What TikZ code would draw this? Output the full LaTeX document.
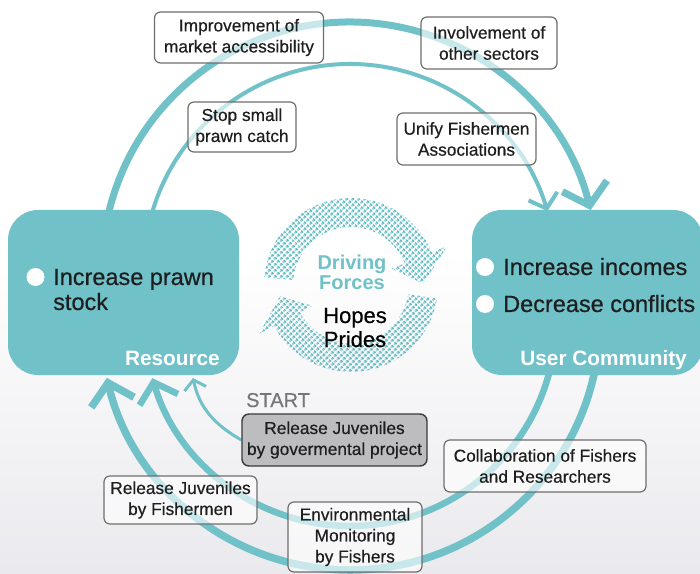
\documentclass[tikz,border=0pt]{standalone}
\usepackage{fontspec}
\setmainfont{Liberation Sans}
\newfontfamily\medfont[FakeBold=0.45]{Liberation Sans}
\usetikzlibrary{arrows.meta,patterns.meta,calc}
\definecolor{teal0}{RGB}{112,193,200}
\definecolor{ringteal}{RGB}{100,188,196}
\definecolor{txt}{RGB}{30,30,30}
\definecolor{lblborder}{RGB}{110,110,110}
\definecolor{govfill}{RGB}{189,189,192}
\definecolor{govborder}{RGB}{58,58,58}
\definecolor{startgray}{RGB}{118,118,118}
\definecolor{bgbot}{RGB}{234,234,238}
\pgfdeclarelayer{bgl}
\pgfdeclarelayer{lines}
\pgfsetlayers{bgl,lines,main}
\begin{document}
\begin{tikzpicture}[x=1pt,y=1pt,
  mainbox/.style={fill=teal0, rounded corners=30pt, inner sep=0pt},
  lbl/.style={draw=lblborder, line width=1.2pt, rounded corners=6pt, fill=white, fill opacity=0.62, text opacity=1, text=txt, align=center, font=\medfont\fontsize{17.3}{21}\selectfont, inner sep=0pt},
  govbox/.style={draw=govborder, line width=1.4pt, rounded corners=7pt, fill=govfill, text=txt, align=center, font=\medfont\fontsize{17.3}{21}\selectfont, inner sep=0pt},
  flow/.style={draw=teal0},
  bigtext/.style={anchor=base west, inner sep=0pt, text=txt, font=\medfont\fontsize{23.5}{25}\selectfont},
  boxtitle/.style={anchor=base east, inner sep=0pt, text=white, font=\bfseries\fontsize{20.8}{24}\selectfont},
  bullet/.style={circle, fill=white, minimum size=18pt, inner sep=0pt},
  ring/.style={pattern={Dots[angle=45,distance=4pt,radius=1.6pt]}, pattern color=ringteal}
]
\useasboundingbox (0,0) rectangle (700,573);
\clip (0,0) rectangle (700,573);
\begin{pgfonlayer}{bgl}
\fill[white] (0,0) rectangle (700,573);
\shade[top color=white, bottom color=bgbot] (0,0) rectangle (700,320);
\end{pgfonlayer}

% main boxes
\node[mainbox, minimum width=231pt, minimum height=165pt] (res) at (123.5,280.5) {};
\node[mainbox, minimum width=231pt, minimum height=165pt] (com) at (587.5,280.5) {};

\node[bullet] (b1) at (35.5,296) {};
\node[bigtext] (t1) at (53,288) {Increase prawn};
\node[bigtext] (t2) at (53,263) {stock};
\node[boxtitle] (rt) at (220,208) {Resource};

\node[bullet] (b2) at (485,306) {};
\node[bullet] (b3) at (485,269) {};
\node[bigtext] (t3) at (503,298) {Increase incomes};
\node[bigtext] (t4) at (503,261) {Decrease conflicts};
\node[boxtitle] (ct) at (687,208) {User Community};

% centres of the cycle arcs
\coordinate (C1) at (350,303);
\coordinate (C2) at (350,253);

% labels
\node[lbl, minimum width=169pt, minimum height=51pt] (l1) at (239,535.5) {Improvement of\\market accessibility};
\node[lbl, minimum width=136pt, minimum height=52pt] (l2) at (489,530) {Involvement of\\other sectors};
\node[lbl, minimum width=108pt, minimum height=50pt] (l3) at (242,446) {Stop small\\prawn catch};
\node[lbl, minimum width=139pt, minimum height=52pt] (l4) at (466.5,434) {Unify Fishermen\\Associations};
\node[govbox, minimum width=185pt, minimum height=52pt] (gov) at (334.5,133) {Release Juveniles\\by govermental project};
\node[anchor=base west, inner sep=0pt, text=startgray, font=\medfont\fontsize{20}{24}\selectfont] (start) at (246,166) {START};
\node[lbl, minimum width=202pt, minimum height=52pt] (l5) at (545,107) {Collaboration of Fishers\\and Researchers};
\node[lbl, minimum width=153pt, minimum height=48pt] (l6) at (180.5,73) {Release Juveniles\\by Fishermen};
\node[lbl, minimum width=134pt, minimum height=70pt] (l7) at (355,36) {Environmental\\Monitoring\\by Fishers};

% cycle arcs
\begin{pgfonlayer}{lines}
\coordinate (ou) at ($(C1)+(172:248)$);
\coordinate (iu) at ($(C1)+(170:206)$);
\coordinate (ol) at ($(C2)+(-5:250)$);
\coordinate (il) at ($(C2)+(-5:206)$);
\coordinate (st) at (193,195);
\draw[flow, line width=7pt, -{Straight Barb[length=20pt,width=46pt]}] (ou) arc[start angle=172, end angle=14, radius=248];
\draw[flow, line width=4pt, -{Straight Barb[length=13pt,width=30pt]}] (iu) arc[start angle=170, end angle=16.6, radius=206];
\draw[flow, line width=7.5pt, -{Straight Barb[length=20pt,width=44pt]}] (ol) arc[start angle=-5, end angle=-166.6, radius=250];
\draw[flow, line width=6.5pt, -{Straight Barb[length=18pt,width=40pt]}] (il) arc[start angle=-5, end angle=-163.6, radius=206];
\draw[flow, line width=3pt, -{Straight Barb[length=9pt,width=22pt]}] (gov.west) to[out=150,in=-78] (st);
\end{pgfonlayer}

% driving forces ring
\begin{scope}[shift={(351,288)}]
\fill[ring] (175:87) arc[start angle=175,end angle=22,radius=87] -- (22:104) -- (1:72) -- (22:44) -- (22:58) arc[start angle=22,end angle=175,radius=58] -- cycle;
\fill[ring] (-9:87) arc[start angle=-9,end angle=-152,radius=87] -- (-152:104) -- (-171:72) -- (-152:44) -- (-152:58) arc[start angle=-152,end angle=-9,radius=58] -- cycle;
\end{scope}
\node[anchor=base, inner sep=0pt, text=teal0, font=\bfseries\fontsize{20}{20}\selectfont] (df1) at (352,303) {Driving};
\node[anchor=base, inner sep=0pt, text=teal0, font=\bfseries\fontsize{20}{20}\selectfont] (df2) at (352,283) {Forces};
\node[anchor=base, inner sep=0pt, text=black, font=\medfont\fontsize{22}{24}\selectfont] (hp) at (355,250) {Hopes};
\node[anchor=base, inner sep=0pt, text=black, font=\medfont\fontsize{22}{24}\selectfont] (pr) at (355,226) {Prides};
\end{tikzpicture}
\end{document}
